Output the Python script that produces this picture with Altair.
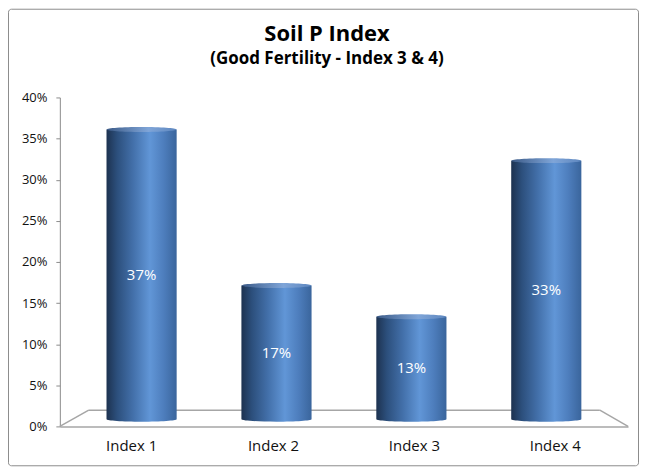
import altair as alt
import pandas as pd

# ---- data ----
categories = ["Index 1", "Index 2", "Index 3", "Index 4"]
shares = [0.37, 0.17, 0.13, 0.33]
share_labels = ["37%", "17%", "13%", "33%"]
title_text = "Soil P Index"
subtitle_text = "(Good Fertility - Index 3 & 4)"
y_ticks = [0, 0.05, 0.10, 0.15, 0.20, 0.25, 0.30, 0.35, 0.40]

df = pd.DataFrame({"cat": categories, "share": shares, "label": share_labels})

FONT = "Open Sans"
GRAY = "#a6a6a6"

body = alt.Gradient(
    gradient="linear", x1=0, x2=1, y1=0, y2=0,
    stops=[
        alt.GradientStop(color="#1d3250", offset=0),
        alt.GradientStop(color="#2c4f7c", offset=0.15),
        alt.GradientStop(color="#4370aa", offset=0.38),
        alt.GradientStop(color="#6196d7", offset=0.62),
        alt.GradientStop(color="#4d7dbc", offset=0.82),
        alt.GradientStop(color="#3a659c", offset=1),
    ],
)
top_fill = alt.Gradient(
    gradient="linear", x1=0, x2=1, y1=0, y2=0,
    stops=[
        alt.GradientStop(color="#3c5b88", offset=0),
        alt.GradientStop(color="#7fa5d8", offset=0.6),
        alt.GradientStop(color="#5e87bf", offset=1),
    ],
)
ellipse = "M -1 0 A 1 0.07 0 1 1 1 0 A 1 0.07 0 1 1 -1 0 Z"

# cylinders stand on the (receding) floor, so their value scale is a bit
# compressed compared with the front axis
bar_scale = alt.Scale(domain=[0, 0.4], range=[319.8, 6.6])

x_enc = alt.X(
    "cat:N", sort=categories, title=None,
    scale=alt.Scale(paddingInner=0.48, paddingOuter=0.346),
    axis=alt.Axis(labelAngle=0, ticks=False, domainColor=GRAY, domainWidth=1.5,
                  labelFont=FONT, labelFontSize=15, labelColor="#111111",
                  labelPadding=12,
                  labelOffset=alt.ExprRef(
                      "datum.value == 'Index 1' ? -10 : datum.value == 'Index 2' ? -3 : "
                      "datum.value == 'Index 3' ? 3 : 9")),
)

one = alt.Data(values=[{}])

# 3D floor outline (decoration)
floor_left = alt.Chart(one).mark_rule(color=GRAY, strokeWidth=1.5).encode(
    x=alt.value(0), x2=alt.value(29), y=alt.value(330), y2=alt.value(313.7))
floor_back = alt.Chart(one).mark_rule(color=GRAY, strokeWidth=1.5).encode(
    x=alt.value(29), x2=alt.value(541.7), y=alt.value(313.7), y2=alt.value(313.7))
floor_right = alt.Chart(one).mark_rule(color=GRAY, strokeWidth=1.5).encode(
    x=alt.value(541.7), x2=alt.value(570), y=alt.value(313.7), y2=alt.value(330))

frame = alt.Chart(one).mark_rect(fill="white", fillOpacity=0, stroke="#8c8c8c",
                                 strokeWidth=1, cornerRadius=3).encode(
    x=alt.value(-51.5), x2=alt.value(580.5), y=alt.value(-88.5), y2=alt.value(369.5))

base = alt.Chart(df)

# front value axis
axis_layer = base.mark_point(opacity=0).encode(
    y=alt.Y("share:Q", title=None, scale=alt.Scale(domain=[0, 0.4]),
            axis=alt.Axis(orient="left", values=y_ticks, format=".0%", grid=False,
                          domainColor="#8c8c8c", tickColor="#8c8c8c", tickSize=4,
                          labelFont=FONT, labelFontSize=13, labelColor="#111111",
                          labelPadding=9)))

bars = base.mark_bar(color=body, yOffset=2, y2Offset=3).encode(
    x=x_enc, y=alt.Y("share:Q", scale=bar_scale, axis=None), y2=alt.datum(0))

bottoms = base.mark_point(shape=ellipse, size=4900, filled=True, fill=body,
                          opacity=1, strokeWidth=0, yOffset=3).encode(
    x=alt.X("cat:N", sort=categories), y=alt.Y("zero:Q", scale=bar_scale, axis=None)
).transform_calculate(zero="0")

tops = base.mark_point(shape=ellipse, size=4900, filled=True, fill=top_fill,
                       opacity=1, strokeWidth=0, yOffset=2).encode(
    x=alt.X("cat:N", sort=categories), y=alt.Y("share:Q", scale=bar_scale, axis=None))

labels = base.mark_text(color="white", font=FONT, fontSize=15, baseline="middle",
                        yOffset=3).encode(
    x=alt.X("cat:N", sort=categories), y=alt.Y("half:Q", scale=bar_scale, axis=None),
    text="label:N").transform_calculate(half="datum.share / 2")

title = alt.Chart(one).mark_text(text=title_text, font=FONT, fontSize=22,
                                 fontWeight="bold", color="#000000",
                                 baseline="alphabetic", align="center").encode(
    x=alt.value(268), y=alt.value(-57))
subtitle = alt.Chart(one).mark_text(text=subtitle_text, font=FONT, fontSize=17,
                                    fontWeight="bold", color="#000000",
                                    baseline="alphabetic", align="center").encode(
    x=alt.value(268), y=alt.value(-34))

chart = alt.layer(
    frame, floor_left, floor_back, floor_right, axis_layer, bars, bottoms, tops,
    labels, title, subtitle
).resolve_scale(y="independent").properties(
    width=570, height=330,
    autosize=alt.AutoSizeParams(type="none"),
    padding={"left": 52, "top": 89, "right": 11, "bottom": 41},
    background="white",
).configure_view(stroke=None)

chart.save("out.html", embed_options={"renderer": "svg", "actions": False})
